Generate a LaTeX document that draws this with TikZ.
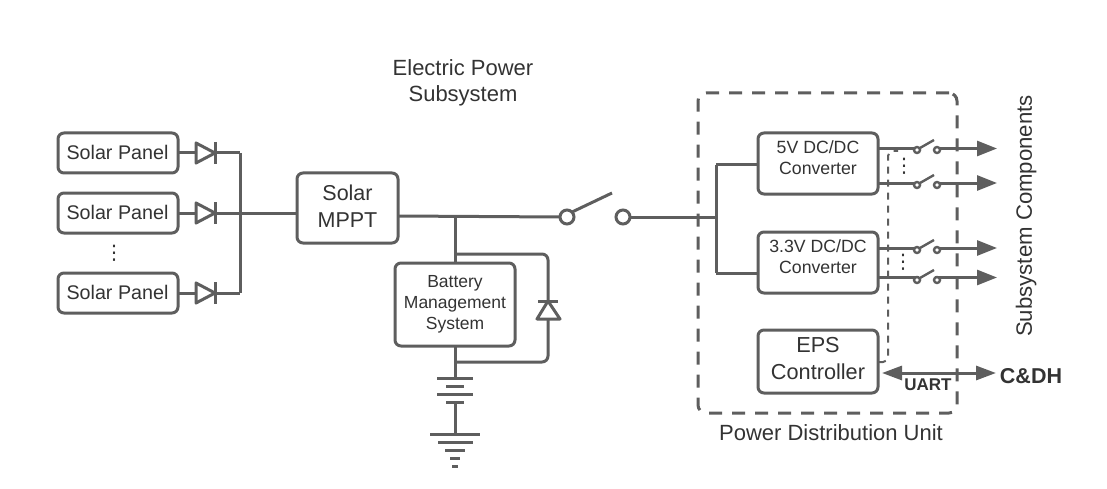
\documentclass[tikz,border=0pt]{standalone}
\usepackage{fontspec}
\usetikzlibrary{arrows.meta}
\setmainfont{Liberation Sans}
\newfontfamily\dejavu{DejaVu Sans}
\definecolor{ln}{HTML}{5E5E5E}
\definecolor{tx}{HTML}{333333}
\tikzset{
  wire/.style={draw=ln,line width=3pt,line join=round},
  thin wire/.style={draw=ln,line width=2pt},
  blockbox/.style={draw=ln,line width=3pt,rounded corners=6pt,fill=white,inner sep=0pt,outer sep=0pt},
  txt/.style={text=tx,inner sep=0pt,align=center},
  lbl/.style 2 args={txt,font=\fontsize{#1}{#2}\selectfont},
  vdots/.style={text=tx,inner sep=0pt,font=\dejavu\fontsize{20}{20}\selectfont},
  pics/diodeR/.style={code={
    \draw[wire,fill=white] (-9,-10) -- (10,0) -- (-9,10) -- cycle;
    \draw[wire] (10,-11) -- (10,11);}},
  pics/swsmall/.style={code={
    \draw[thin wire,line width=2.4pt,fill=white] (-10,2) circle (3);
    \draw[thin wire,line width=2.4pt,fill=white] (10,2) circle (3);
    \draw[thin wire,line width=2.4pt] (-7,0) -- (7,-8);}},
  output/.style={wire,-{Triangle[length=20pt,width=15pt]}}
}
\begin{document}
\begin{tikzpicture}[x=1pt,y=-1pt]
\useasboundingbox (0,0) rectangle (1107,489);
% Solar side
\node[blockbox,minimum width=120pt,minimum height=40pt] (p1) at (118,153) {};
\node[blockbox,minimum width=120pt,minimum height=40pt] (p2) at (118,213) {};
\node[blockbox,minimum width=120pt,minimum height=40pt] (p3) at (118,293) {};
\node[lbl={19.7}{24}] (tp1) at (117.5,152) {Solar Panel};
\node[lbl={19.7}{24}] (tp2) at (117.5,212) {Solar Panel};
\node[lbl={19.7}{24}] (tp3) at (117.5,292) {Solar Panel};
\node[vdots] (dp) at (114,253) {⋮};
\coordinate (d1) at (205,153);
\coordinate (d2) at (205,213);
\coordinate (d3) at (205,293);
\coordinate (b1) at (240,153);
\coordinate (b2) at (240,213);
\coordinate (b3) at (240,293);
\node[blockbox,minimum width=101pt,minimum height=70pt] (mppt) at (347.5,208) {};
\node[lbl={21.5}{27}] (tmppt) at (347.5,206) {Solar\\MPPT};
\draw[wire] (p1.east) -- (d1) -- (b1);
\draw[wire] (p2.east) -- (d2) -- (b2) -- (mppt.west |- b2);
\draw[wire] (p3.east) -- (d3) -- (b3);
\draw[wire] (b1) -- (b3);
\pic at (d1) {diodeR};
\pic at (d2) {diodeR};
\pic at (d3) {diodeR};
% Main bus and switch
\coordinate (jm) at (398,216);
\coordinate (jb) at (455,216);
\node[circle,draw=ln,line width=3pt,fill=white,minimum size=14pt,inner sep=0pt,outer sep=0pt] (s1) at (567,217) {};
\node[circle,draw=ln,line width=3pt,fill=white,minimum size=14pt,inner sep=0pt,outer sep=0pt] (s2) at (623,217) {};
\coordinate (blade) at (612,193);
\coordinate (busin) at (716,217);
\draw[wire] (jm) -- (s1.west);
\draw[wire] (s1.north east) -- (blade);
\draw[wire] (s2.east) -- (busin);
% BMS
\node[blockbox,minimum width=120pt,minimum height=83pt] (bms) at (455,304.5) {};
\node[lbl={17.5}{21}] (tbms) at (455,304) {Battery\\Management\\System};
\coordinate (jt) at (455,254);
\coordinate (jl) at (455,362);
\coordinate (cr) at (548,254);
\coordinate (cb) at (548,362);
\draw[wire] (jb) -- (bms.north);
\draw[wire,rounded corners=6pt] (jt) -- (cr) -- (cb) -- (jl);
\draw[wire,fill=white] (548,301) -- (537,319) -- (560,319) -- cycle;
\draw[wire] (538,301) -- (558,301);
% Battery and ground
\coordinate (b1p) at (455,378);
\coordinate (b4p) at (455,402);
\coordinate (g0) at (455,434);
\draw[wire] (bms.south) -- (b1p);
\draw[wire] (b4p) -- (g0);
\draw[wire] (437,378) -- (473,378);
\draw[wire] (446,386) -- (464,386);
\draw[wire] (437,394) -- (473,394);
\draw[wire] (446,402) -- (464,402);
\draw[wire] (430,434) -- (480,434);
\draw[wire] (438,442) -- (473,442);
\draw[wire] (445,450) -- (465,450);
\draw[wire] (450,458) -- (460,458);
\draw[wire] (452,466) -- (458,466);
% PDU
\node[draw=ln,line width=3pt,rounded corners=8pt,dash pattern=on 13pt off 10pt,minimum width=259pt,minimum height=320pt,inner sep=0pt,outer sep=0pt] (pdu) at (827.5,253) {};
\node[lbl={22}{26}] (tpdu) at (831,433) {Power Distribution Unit};
\node[lbl={22}{26}] (teps) at (463,83) {Electric Power\\Subsystem};
% Converters
\node[blockbox,minimum width=120pt,minimum height=61pt] (c5) at (818,163.5) {};
\node[lbl={17.7}{21}] (tc5) at (818,158) {5V DC/DC\\Converter};
\node[blockbox,minimum width=120pt,minimum height=61pt] (c3) at (818,262.5) {};
\node[lbl={17.7}{21}] (tc3) at (818,257) {3.3V DC/DC\\Converter};
\node[blockbox,minimum width=120pt,minimum height=63pt] (ec) at (818,361.5) {};
\node[lbl={21.7}{27}] (tec) at (818,358.5) {EPS\\Controller};
\coordinate (bt) at (716,165);
\coordinate (bb) at (716,273);
\draw[wire] (bt) -- (c5.west |- bt);
\draw[wire] (bb) -- (c3.west |- bb);
\draw[wire] (bt) -- (bb);
% Control line
\coordinate (ct0) at (879,362);
\coordinate (ct1) at (888,362);
\coordinate (ct2) at (888,151);
\coordinate (ct3) at (898,151);
\draw[thin wire,dash pattern=on 7pt off 6pt,rounded corners=5pt] (ct0) -- (ct1) -- (ct2) -- (ct3);
% Outputs
\coordinate (a1) at (997,148.5);
\coordinate (a2) at (997,183);
\coordinate (a3) at (997,248);
\coordinate (a4) at (997,277.5);
\draw[output] (c5.east |- a1) -- (a1);
\draw[output] (c5.east |- a2) -- (a2);
\draw[output] (c3.east |- a3) -- (a3);
\draw[output] (c3.east |- a4) -- (a4);
\foreach \y in {148,183,248,278}{
  \fill[white] (919,\y-4) rectangle (935,\y+4);
  \pic at (927,\y) {swsmall};
}
\node[vdots] (d5) at (904,166) {⋮};
\node[vdots] (d3v) at (903,262) {⋮};
% UART
\node[txt,font=\bfseries\fontsize{17}{17}\selectfont] (tu) at (928,385) {UART};
\node[txt,font=\bfseries\fontsize{21.5}{21.5}\selectfont] (cdh) at (1031,376) {C\&DH};
\coordinate (ul) at (882,373);
\coordinate (ur) at (996,373);
\draw[wire,{Triangle[length=20pt,width=14pt]}-{Triangle[length=20pt,width=14pt]}] (ul) -- (ur);
\node[lbl={22.2}{26},rotate=90] (tsub) at (1026,216) {Subsystem Components};
\end{tikzpicture}
\end{document}
